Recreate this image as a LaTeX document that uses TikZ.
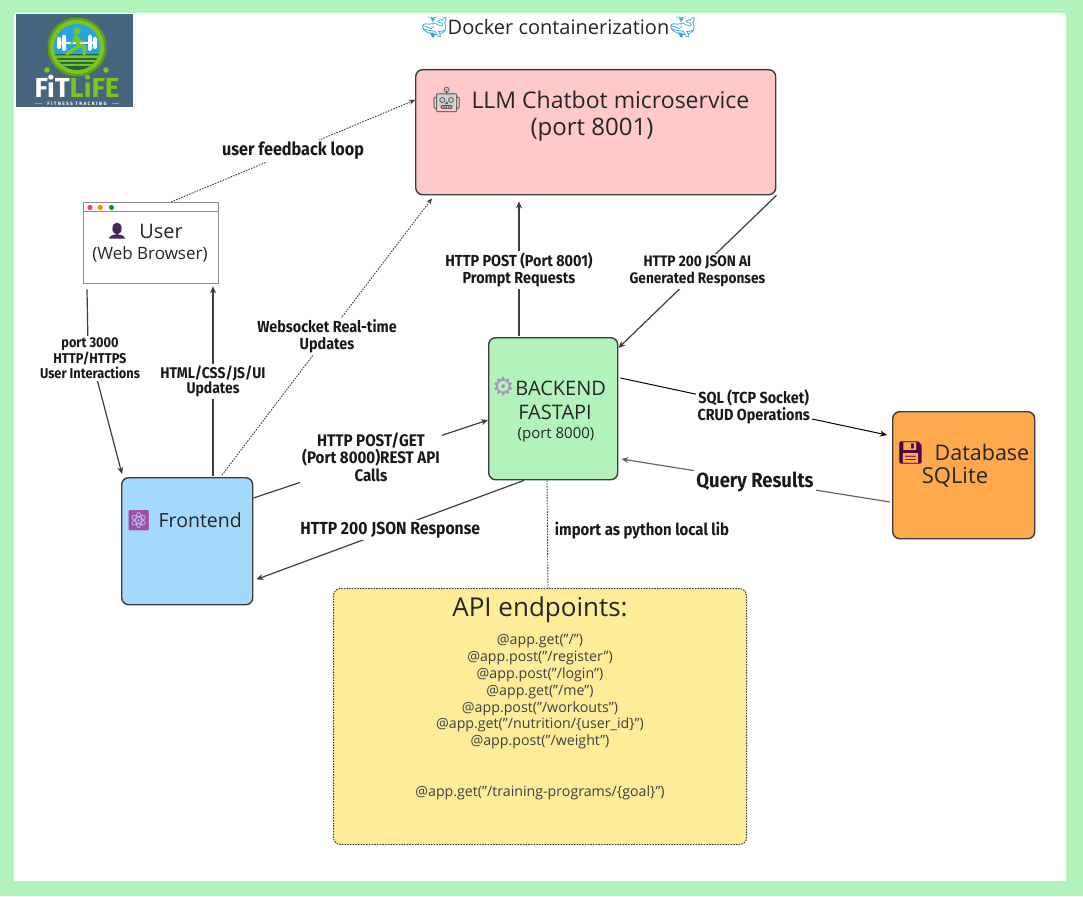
\documentclass[tikz,border=0pt]{standalone}
\usepackage{fontspec}
\setmainfont{Open Sans}
\newfontfamily\lblfont[FakeStretch=0.9]{Fira Sans}
\newfontfamily\emo{Noto Emoji}
\newfontfamily\dejavu{DejaVu Sans}
\usetikzlibrary{arrows.meta,calc}
\definecolor{pagegreen}{HTML}{B2F2BB}
\definecolor{redbox}{HTML}{FFC9C9}
\definecolor{bluebox}{HTML}{A5D8FF}
\definecolor{orangebox}{HTML}{FFA94D}
\definecolor{yellowbox}{HTML}{FFEC99}
\definecolor{linecol}{HTML}{3D3D3D}
\definecolor{logobg}{HTML}{47657C}
\definecolor{logogreen}{HTML}{7AC520}
\definecolor{logoblue}{HTML}{25A5DF}
\definecolor{whale}{HTML}{2AA0DC}
\definecolor{bust}{HTML}{45275F}
\definecolor{gearcol}{HTML}{A98FB8}
\tikzset{
  x=1pt,y=-1pt,
  boxnode/.style={draw=linecol,line width=1.4pt,rounded corners=7pt,inner sep=0pt,anchor=north west},
  hand/.style={inner sep=0pt,align=center,text=black!85},
  flow/.style={draw=linecol,line width=1.2pt,-{Stealth[length=7pt,width=6pt]}},
  dotflow/.style={draw=linecol,line width=0.9pt,dash pattern=on 1.6pt off 1.2pt,-{Stealth[length=6pt,width=5pt]}},
  edgelabel/.style={fill=white,inner sep=2pt,align=center,font=\lblfont\bfseries\fontsize{16}{17}\selectfont,text=black!90},
}
\newcommand{\px}[1]{\fontsize{#1}{#1}\selectfont}
\begin{document}
\begin{tikzpicture}
\useasboundingbox (0,0) rectangle (1083,896);
\fill[pagegreen] (0,0) rectangle (1083,896);
\fill[white] (14,13) rectangle (1066,881);

% logo
\fill[logobg] (16,14) rectangle (133,107);
\fill[logogreen!80!black] (77,47) circle (29.5);
\fill[logogreen] (77,47) circle (27);
\begin{scope}
\clip (77,47) circle (23);
\fill[logoblue] (50,20) rectangle (104,74);
\fill[logobg!60!black!80!green] (50,54) rectangle (104,74);
\fill[logogreen] (50,55.5) rectangle (104,58) (50,60) rectangle (104,62) (50,64) rectangle (104,66);
\end{scope}
\draw[white,line width=1.8pt] (60,43) -- (94,43);
\fill[white,rounded corners=2pt] (57,37) rectangle (61,49) (93,37) rectangle (97,49);
\fill[white,rounded corners=1.5pt] (62,35) rectangle (66,51) (88,35) rectangle (92,51);
\fill[logogreen] (77,31) circle (3.6);
\draw[logogreen,line width=4.6pt,line cap=round,line join=round] (76,37) -- (79,46);
\draw[logogreen,line width=3.4pt,line cap=round,line join=round] (79,46) -- (73,50) -- (67,54);
\draw[logogreen,line width=3.4pt,line cap=round,line join=round] (79,46) -- (85,47) -- (84,54);
\draw[logogreen,line width=2pt,line cap=round] (76,38) -- (71,44) (77,38) -- (83,42);
\fill[logogreen] (47,70) circle (2.8) (106,70) circle (2.8);
\node[inner sep=0pt,anchor=base,text depth=0pt] (logotext) at (77,97.5) {\fontspec{Fira Sans}\bfseries\px{27.5}\textcolor{white}{FiT}\textcolor{logogreen}{LiFE}};
\node[inner sep=0pt,text=white!85,text height=3.6pt,text depth=0pt] (logosub) at (77,103.5) {\fontspec{Fira Sans}\bfseries\px{4.8}\addfontfeatures{LetterSpace=28}FITNESS TRACKING};
\draw[logogreen,line width=0.8pt] (35,103.5) -- (42,103.5) (112,103.5) -- (119,103.5);

% title
\node[hand] (title) at (558.5,27) {\textcolor{whale}{\emo\px{21}🐳}\px{20}Docker containerization\textcolor{whale}{\emo\px{21}🐳}};

% boxes
\node[boxnode,fill=redbox,minimum width=360pt,minimum height=125pt] (llm) at (415,69) {};
\node[boxnode,fill=pagegreen,minimum width=129pt,minimum height=142pt] (backend) at (488,337) {};
\node[boxnode,fill=bluebox,minimum width=131pt,minimum height=127pt] (frontend) at (121,477) {};
\node[boxnode,fill=orangebox,minimum width=142pt,minimum height=127pt] (database) at (892,411) {};
\node[boxnode,fill=yellowbox,draw=linecol,line width=1pt,dash pattern=on 1.5pt off 1.2pt,minimum width=413pt,minimum height=256pt] (api) at (333,588) {};
\node[draw=black!45,line width=1.3pt,fill=white,inner sep=0pt,anchor=north west,minimum width=135pt,minimum height=81pt] (user) at (83,202) {};
\draw[black!45,line width=1pt] (user.west |- 0,211) -- (user.east |- 0,211);
\fill[red!75!white] (90,207.5) circle (2.6);
\fill[orange!90!yellow] (100.3,207.5) circle (2.6);
\fill[green!65!black] (111.5,207.5) circle (2.6);

% box texts
\fill[black!18,rounded corners=3pt] (437,91) rectangle (455,108);
\node[hand] (llmtext) at (590,100) {\textcolor{black!65}{\emo\px{25}🤖}\hspace{9pt}\px{23}LLM Chatbot microservice};
\node[hand] (llmport) at (592,130) {\px{24}(port 8001)};
\fill[bust] (117,228.5) ellipse (4.6 and 6) (109,238.5) .. controls (110,233) and (124,233) .. (125,238.5) -- cycle;
\node[hand] (usertext) at (161,231) {\px{20}User};
\node[hand] (userweb) at (150,254) {\px{17}(Web Browser)};
\node[hand] (backendtext) at (549,387) {\textcolor{gearcol}{\dejavu\px{25}⚙}\hspace{1pt}\px{20}BACKEND};
\node[hand] (backendfast) at (555,412) {\px{20}FASTAPI};
\node[hand] (backendport) at (556,435) {\px{15}(port 8000)};
\node[hand] (frontendtext) at (184,521) {\textcolor{violet!70!white}{\emo\px{20}⚛}\hspace{7pt}\px{19.5}Frontend};
\node[hand] (dbtext) at (963,453) {\textcolor{violet!60!black}{\emo\px{22}💾}\hspace{10pt}\px{21.5}Database};
\node[hand] (dbsql) at (955,477) {\px{22}SQLite};
\node[hand] (apititle) at (540,610) {\px{26}API endpoints:};
\node[hand,text=black!75,font=\fontsize{14.2}{16.8}\selectfont] (apilist) at (540,692) {@app.get("/")\\@app.post("/register")\\@app.post("/login")\\@app.get("/me")\\@app.post("/workouts")\\@app.get("/nutrition/\{user\_id\}")\\@app.post("/weight")};
\node[hand,text=black!75] (apitrain) at (540,793) {\px{14.2}@app.get("/training-programs/\{goal\}")};

% connectors
\draw[dotflow] ([xshift=88pt]user.north west) -- ([yshift=-31pt]llm.north west)
  node[pos=0.5,edgelabel,font=\lblfont\bfseries\px{18}] (lfeedback) {user feedback loop};
\draw[flow] ([shift={(4pt,-5pt)}]user.south west) -- (88,345) -- ([xshift=1pt,yshift=3pt]frontend.north west);
\node[edgelabel,font=\lblfont\bfseries\fontsize{14.2}{15.5}\selectfont] (lport) at (90,358.5) {port 3000\\HTTP/HTTPS\\User Interactions};
\draw[flow] ([xshift=92pt,yshift=1pt]frontend.north west) -- ([xshift=130pt,yshift=-2pt]user.south west);
\node[edgelabel,font=\lblfont\bfseries\fontsize{15.5}{15.5}\selectfont] (lhtml) at (213,381.5) {HTML/CSS/JS/UI\\Updates};
\draw[dotflow] ([xshift=101pt,yshift=2pt]frontend.north west) -- ([xshift=17pt,yshift=-3pt]llm.south west)
  node[pos=0.5,edgelabel] (lws) {Websocket Real-time\\Updates};
\draw[flow] ([yshift=-21pt]frontend.north east) -- ([yshift=-83pt]backend.north west);
\node[edgelabel,font=\lblfont\bfseries\fontsize{16.8}{17.5}\selectfont] (lhttp) at (371,457) {HTTP POST/GET\\(Port 8000)REST API\\Calls};
\draw[flow] ([xshift=36pt]backend.south west) -- ([xshift=3pt,yshift=26pt]frontend.south east)
  node[pos=0.5,edgelabel,font=\lblfont\bfseries\px{17.5}] (l200) {HTTP 200 JSON Response};
\draw[flow] ([xshift=31pt,yshift=1pt]backend.north west) -- ([xshift=104pt,yshift=-6pt]llm.south west);
\node[edgelabel] (lpost) at (519,270) {HTTP POST (Port 8001)\\Prompt Requests};
\draw[flow] (llm.south east) -- ([yshift=-11pt]backend.north east)
  node[pos=0.5,edgelabel,font=\lblfont\bfseries\fontsize{15.2}{17}\selectfont] (lai) {HTTP 200 JSON AI\\Generated Responses};
\draw[flow,line width=1pt,draw=black] ([xshift=2pt,yshift=-41pt]backend.north east) -- ([xshift=-5pt,yshift=-24pt]database.north west)
  node[pos=0.5,edgelabel] (lsql) {SQL (TCP Socket)\\CRUD Operations};
\draw[flow,draw=black!60] ([xshift=-2pt,yshift=-91pt]database.north west) -- ([xshift=3pt,yshift=-122pt]backend.north east);
\node[edgelabel,font=\lblfont\bfseries\px{20.5}] (lquery) at (755,482) {Query Results};
\draw[draw=linecol,line width=0.9pt,dash pattern=on 1.6pt off 1.2pt] ([xshift=59pt]backend.south west) -- ([xshift=215pt]api.north west);
\node[edgelabel,fill=none,font=\lblfont\bfseries\px{16.6}] (limport) at (642,531) {import as python local lib};
\end{tikzpicture}
\end{document}
